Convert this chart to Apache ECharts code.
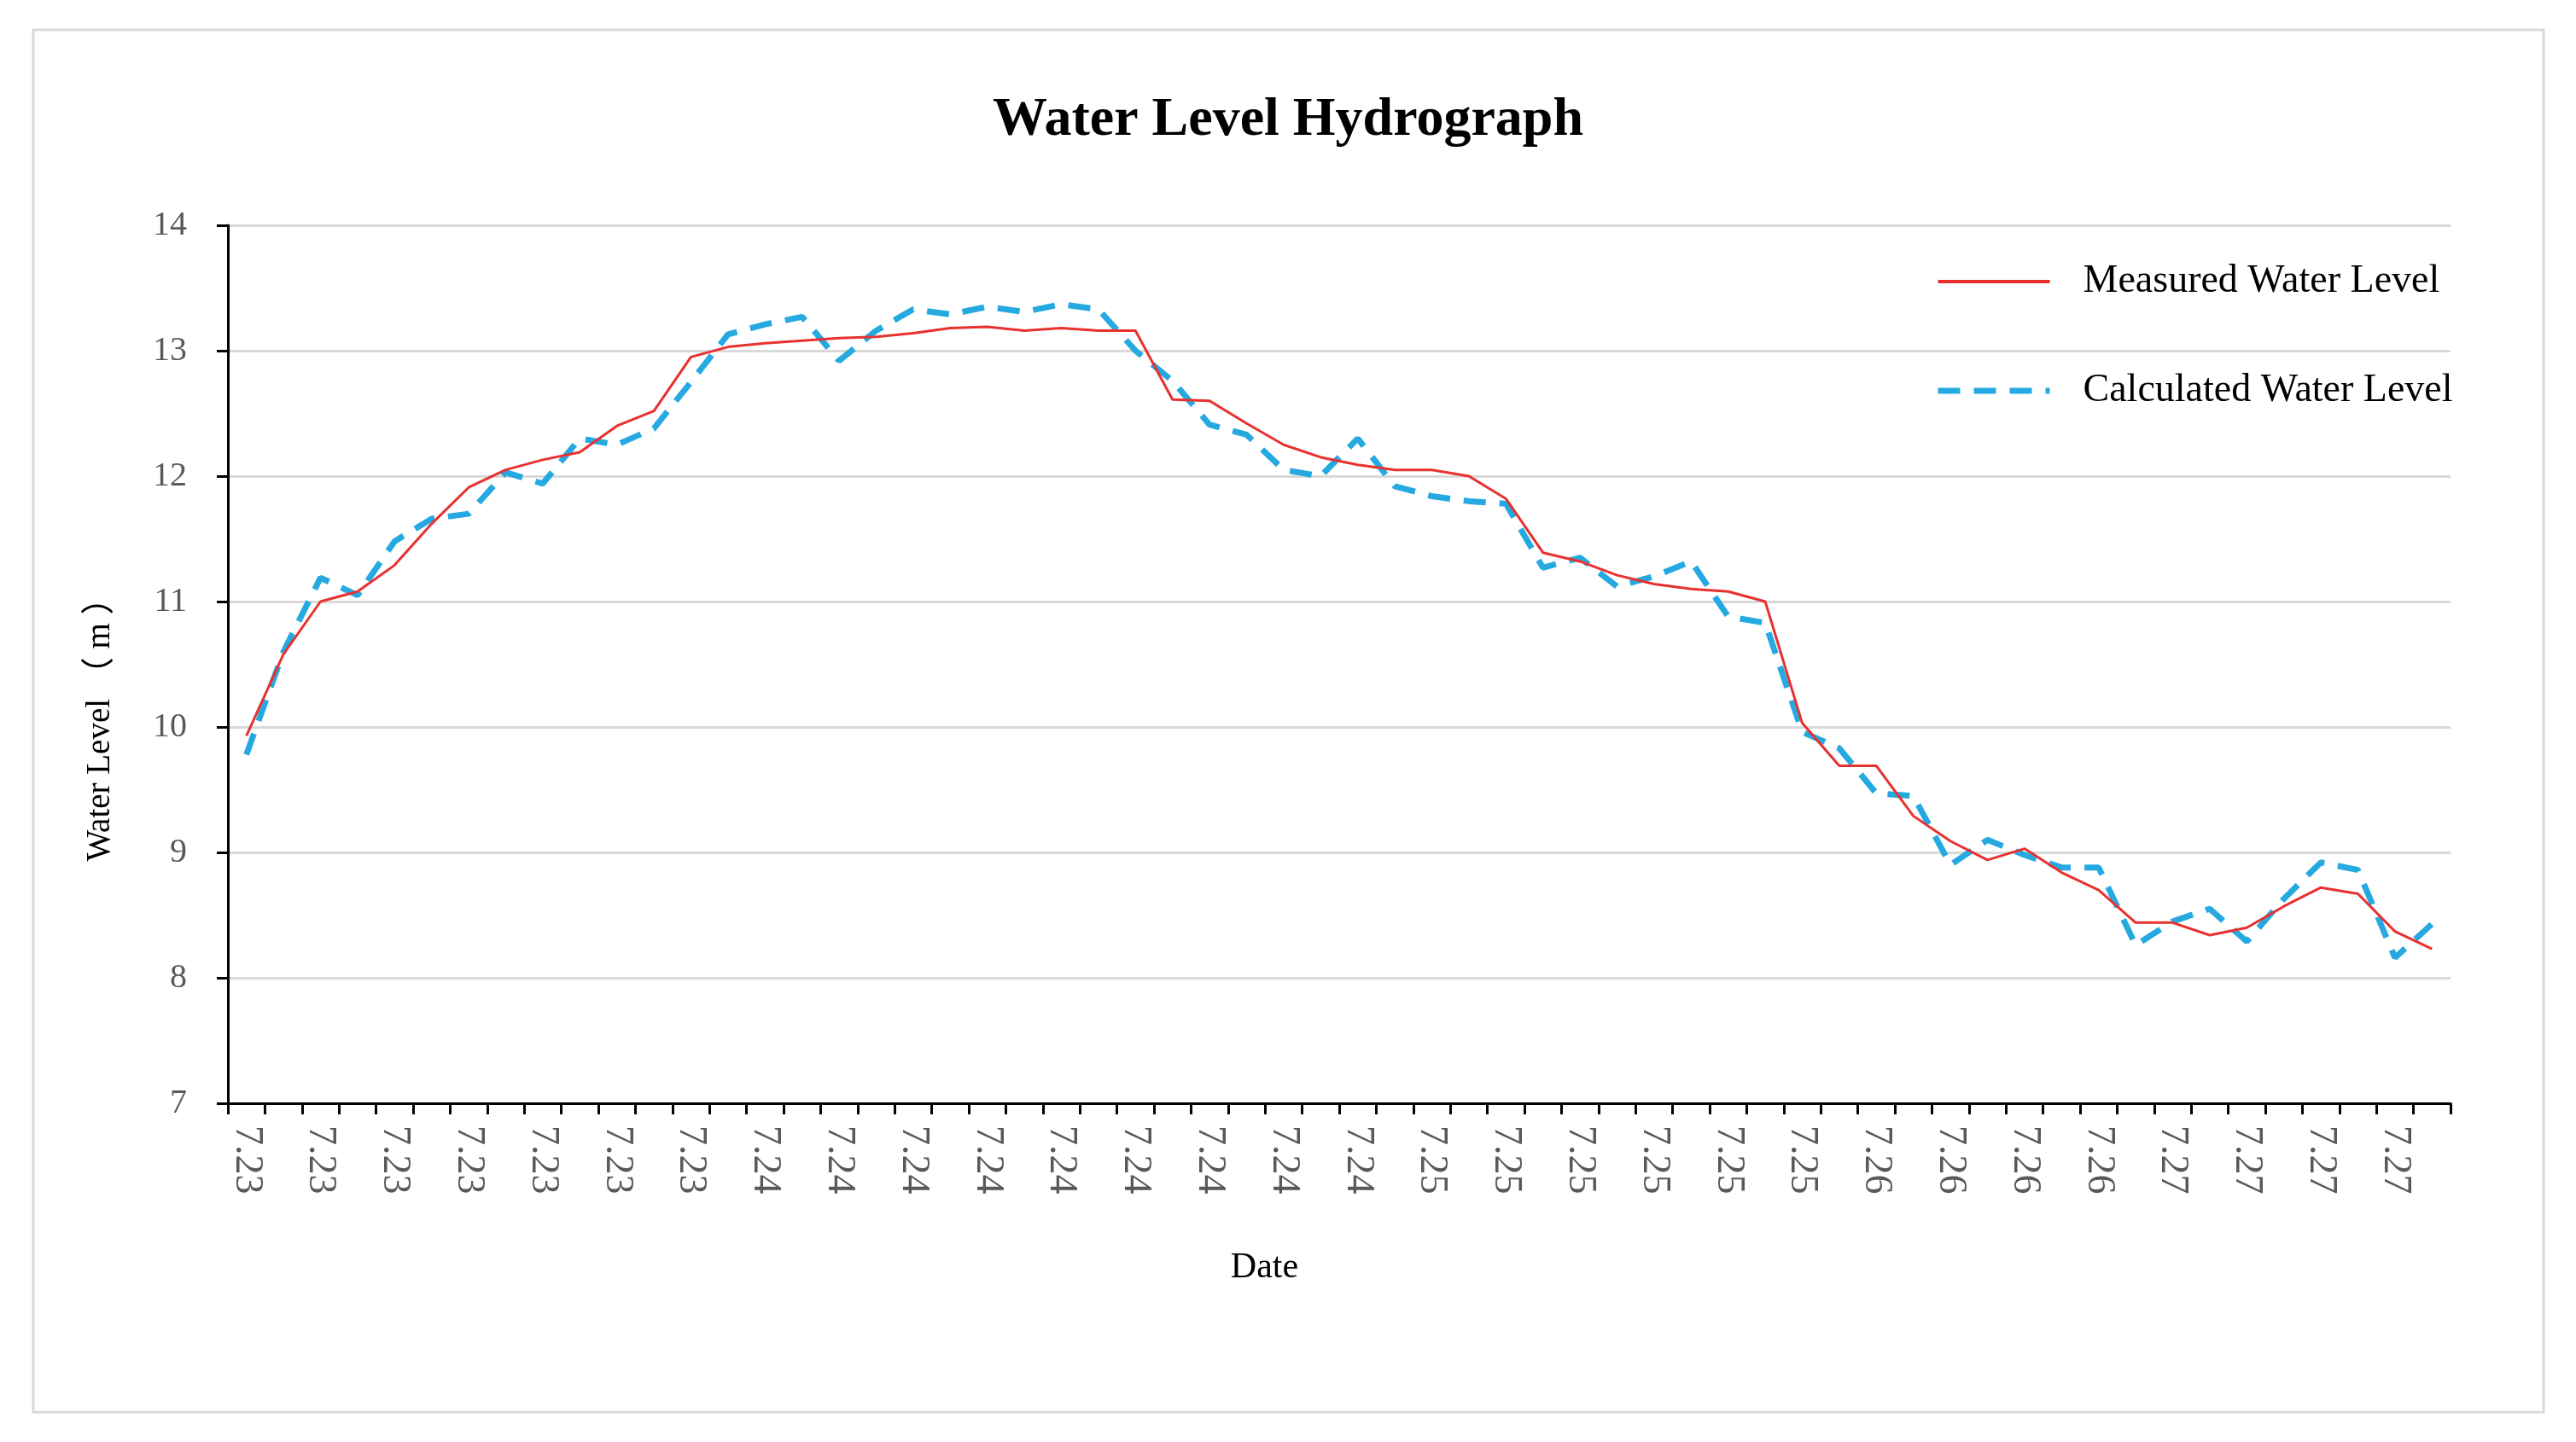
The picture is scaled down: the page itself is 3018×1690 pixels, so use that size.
<!DOCTYPE html>
<html>
<head>
<meta charset="utf-8">
<script src="https://cdn.jsdelivr.net/npm/echarts@6/dist/echarts.min.js"></script>
<style>
html,body{margin:0;padding:0;background:#fff;}
#chart{width:3018px;height:1690px;}
</style>
</head>
<body>
<div id="chart"></div>
<script>
// 60 time steps; labels shown on every other step
const dateLabels = [
  '7.23','7.23','7.23','7.23','7.23','7.23','7.23','7.23','7.23','7.23',
  '7.23','7.23','7.23','7.23','7.24','7.24','7.24','7.24','7.24','7.24',
  '7.24','7.24','7.24','7.24','7.24','7.24','7.24','7.24','7.24','7.24',
  '7.24','7.24','7.25','7.25','7.25','7.25','7.25','7.25','7.25','7.25',
  '7.25','7.25','7.25','7.25','7.26','7.26','7.26','7.26','7.26','7.26',
  '7.26','7.26','7.27','7.27','7.27','7.27','7.27','7.27','7.27','7.27'
];
const measured = [
  9.93,10.58,11.00,11.08,11.29,11.62,11.91,12.05,12.13,12.19,
  12.40,12.52,12.95,13.03,13.06,13.08,13.10,13.11,13.14,13.18,
  13.19,13.16,13.18,13.16,13.16,12.61,12.60,12.42,12.25,12.15,
  12.09,12.05,12.05,12.00,11.82,11.39,11.32,11.21,11.14,11.10,
  11.08,11.00,10.03,9.69,9.69,9.29,9.09,8.94,9.03,8.84,
  8.70,8.44,8.44,8.34,8.40,8.57,8.72,8.67,8.37,8.23
];
const calculated = [
  9.78,10.60,11.19,11.05,11.48,11.66,11.70,12.03,11.94,12.30,
  12.25,12.38,12.75,13.13,13.21,13.27,12.92,13.16,13.33,13.29,
  13.35,13.31,13.37,13.33,13.00,12.76,12.41,12.33,12.05,12.00,
  12.30,11.92,11.84,11.80,11.78,11.27,11.35,11.12,11.20,11.32,
  10.88,10.83,9.96,9.83,9.47,9.45,8.90,9.10,8.98,8.88,
  8.88,8.26,8.45,8.55,8.29,8.63,8.92,8.86,8.16,8.43
];
const yTicks = { min: 7, max: 14, interval: 1 };
const seriesNames = ['Measured Water Level', 'Calculated Water Level'];

const RED = '#e8312f';
const BLUE = '#25a9e0';
const FONT = '"Liberation Serif", "Times New Roman", "Noto Sans CJK SC", serif';
const chart = echarts.init(document.getElementById('chart'), null, { renderer: 'canvas' });
chart.setOption({
  backgroundColor: '#ffffff',
  animation: false,
  graphic: [{
    type: 'rect',
    shape: { x: 39, y: 35, width: 2941, height: 1620 },
    style: { fill: 'none', stroke: '#d9d9d9', lineWidth: 3 },
    silent: true
  }],
  title: {
    text: 'Water Level Hydrograph',
    left: 'center',
    top: 104,
    padding: [5, 0, 5, 30],
    textStyle: { fontFamily: FONT, fontSize: 64, fontWeight: 'bold', color: '#000' }
  },
  legend: {
    orient: 'vertical',
    left: 2262,
    top: 302,
    itemWidth: 131,
    itemHeight: 20,
    itemGap: 82,
    itemStyle: { opacity: 0 },
    textStyle: { fontFamily: FONT, fontSize: 46, color: '#000', padding: [0, 0, 0, 34] },
    data: [
      { name: seriesNames[0], lineStyle: { color: RED, width: 4 } },
      { name: seriesNames[1], lineStyle: { color: BLUE, width: 7, type: [26, 16] } }
    ]
  },
  grid: { left: 267, right: 147, top: 264, bottom: 397, containLabel: false },
  xAxis: {
    type: 'category',
    data: dateLabels,
    boundaryGap: true,
    name: 'Date',
    nameLocation: 'middle',
    nameGap: 172,
    nameTextStyle: { fontFamily: FONT, fontSize: 42, color: '#000', padding: [0, 175, 0, 0] },
    axisLine: { lineStyle: { color: '#000', width: 3 } },
    axisTick: { show: true, interval: 0, length: 13, lineStyle: { color: '#000', width: 3 } },
    axisLabel: { interval: 1, rotate: -90, margin: 26, fontFamily: FONT, fontSize: 46, color: '#595959' },
    splitLine: { show: false }
  },
  yAxis: {
    type: 'value',
    min: yTicks.min,
    max: yTicks.max,
    interval: yTicks.interval,
    name: 'Water Level （ m ）',
    nameLocation: 'middle',
    nameGap: 130,
    nameTextStyle: { fontFamily: FONT, fontSize: 39, color: '#000', padding: [0, 134, 0, 0] },
    axisLine: { show: true, lineStyle: { color: '#000', width: 3 } },
    axisTick: { show: true, length: 13, lineStyle: { color: '#000', width: 3 } },
    axisLabel: { margin: 48, fontFamily: FONT, fontSize: 40, color: '#595959' },
    splitLine: { show: true, lineStyle: { color: '#d9d9d9', width: 3 } }
  },
  series: [
    {
      name: seriesNames[0],
      type: 'line',
      data: measured,
      symbol: 'none',
      lineStyle: { color: RED, width: 3 },
      itemStyle: { color: RED },
      z: 3
    },
    {
      name: seriesNames[1],
      type: 'line',
      data: calculated,
      symbol: 'none',
      lineStyle: { color: BLUE, width: 7, type: [26, 16] },
      itemStyle: { color: BLUE },
      z: 2
    }
  ]
});
</script>
</body>
</html>
